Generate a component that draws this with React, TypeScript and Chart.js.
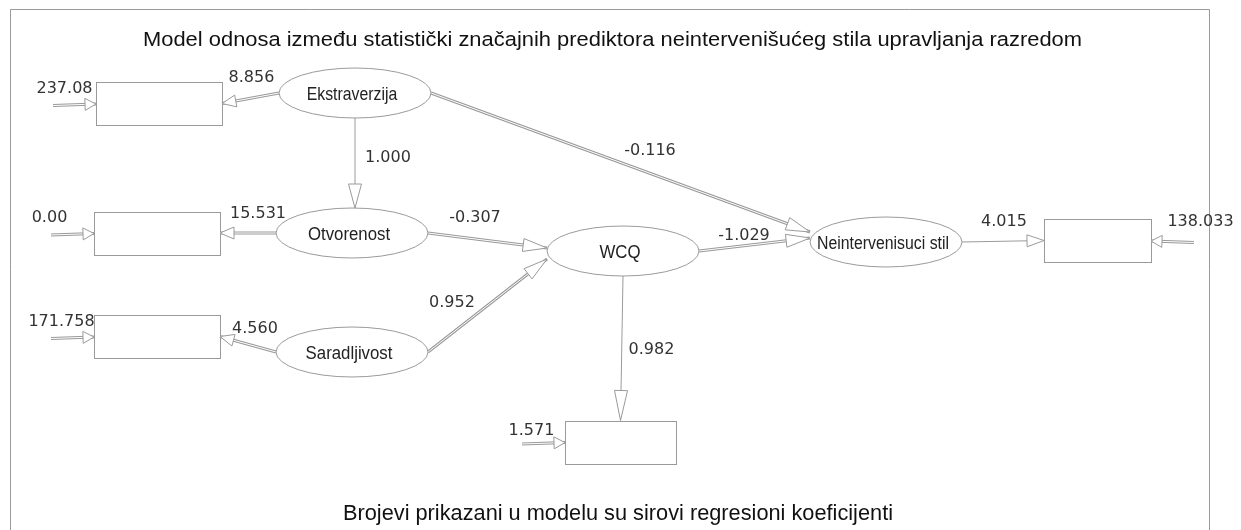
import { useEffect, useRef } from "react";
import { Chart, registerables } from "chart.js";

Chart.register(...registerables);

const titleText =
  "Model odnosa između statistički značajnih prediktora neintervenišućeg stila upravljanja razredom";
const noteText = "Brojevi prikazani u modelu su sirovi regresioni koeficijenti";

// Latent variables (ellipses) – centre in diagram units
const latentNames = ["Ekstraverzija", "Otvorenost", "Saradljivost", "WCQ", "Neintervenisuci stil"];
const latentX = [355, 352, 352, 623, 886];
const latentY = [93, 233, 352, 251, 242];

// Observed indicators (boxes) – centre in diagram units
const boxNames = ["b1", "b2", "b3", "b4", "b5"];
const boxX = [159, 157, 157, 620.5, 1097.5];
const boxY = [103.5, 233, 336.5, 442, 240.5];
const boxWidth = [126, 126, 126, 111, 107];

// Error variances on the boxes
const errorLabels = ["237.08", "0.00", "171.758", "1.571", "138.033"];
const errorSide = ["L", "L", "L", "L", "R"];
const errorLabelX = [64.5, 49.5, 61.5, 531.5, 1200.5];
const errorLabelY = [88.5, 217.5, 322, 431, 221.5];

// Paths with raw regression coefficients
const pathFrom = ["Ekstraverzija", "Ekstraverzija", "Ekstraverzija", "Otvorenost", "Otvorenost", "Saradljivost", "Saradljivost", "WCQ", "WCQ", "Neintervenisuci stil"];
const pathFromSide = ["L", "B", "R", "L", "R", "L", "R", "R", "B", "R"];
const pathTo = ["b1", "Otvorenost", "Neintervenisuci stil", "b2", "WCQ", "b3", "WCQ", "Neintervenisuci stil", "b4", "b5"];
const pathToSide = ["R", "T", "L", "R", "L", "R", "L", "L", "T", "L"];
const pathToShift = [0, 0, -10, 0, -3, 0, 8, -4, 0, 0];
const pathCoef = [8.856, 1.0, -0.116, 15.531, -0.307, 4.56, 0.952, -1.029, 0.982, 4.015];
const pathDouble = [true, false, true, true, true, true, true, true, false, false];
const pathLabelX = [251.5, 388, 650, 258, 475, 255, 452, 744, 651.5, 1004];
const pathLabelY = [78, 157.5, 151, 213.5, 218, 329, 302.5, 235.5, 350, 221.5];

const RX = 76;
const RY = 25;
const BOX_H = 43;
const LINE = "#9a9a9a";

type Pt = { x: number; y: number };

function nodeAnchor(name: string, side: string): Pt {
  const li = latentNames.indexOf(name);
  if (li >= 0) {
    const cx = latentX[li];
    const cy = latentY[li];
    if (side === "L") return { x: cx - RX, y: cy };
    if (side === "R") return { x: cx + RX, y: cy };
    if (side === "T") return { x: cx, y: cy - RY };
    return { x: cx, y: cy + RY };
  }
  const bi = boxNames.indexOf(name);
  const cx = boxX[bi];
  const cy = boxY[bi];
  const w = boxWidth[bi] / 2;
  if (side === "L") return { x: cx - w, y: cy };
  if (side === "R") return { x: cx + w, y: cy };
  if (side === "T") return { x: cx, y: cy - BOX_H / 2 };
  return { x: cx, y: cy + BOX_H / 2 };
}

function drawArrow(ctx: CanvasRenderingContext2D, a: Pt, b: Pt, dbl: boolean, headLen: number, headHalf: number) {
  ctx.save();
  ctx.lineCap = "butt";
  ctx.beginPath();
  ctx.moveTo(a.x, a.y);
  ctx.lineTo(b.x, b.y);
  if (dbl) {
    ctx.strokeStyle = LINE;
    ctx.lineWidth = 3;
    ctx.stroke();
    ctx.strokeStyle = "#ffffff";
    ctx.lineWidth = 1;
    ctx.stroke();
  } else {
    ctx.strokeStyle = LINE;
    ctx.lineWidth = 1;
    ctx.stroke();
  }
  const dx = b.x - a.x;
  const dy = b.y - a.y;
  const len = Math.hypot(dx, dy) || 1;
  const ux = dx / len;
  const uy = dy / len;
  const px = -uy;
  const py = ux;
  const bx = b.x - ux * headLen;
  const by = b.y - uy * headLen;
  ctx.beginPath();
  ctx.moveTo(b.x, b.y);
  ctx.lineTo(bx + px * headHalf, by + py * headHalf);
  ctx.lineTo(bx - px * headHalf, by - py * headHalf);
  ctx.closePath();
  ctx.fillStyle = "#ffffff";
  ctx.fill();
  ctx.strokeStyle = LINE;
  ctx.lineWidth = 1;
  ctx.stroke();
  ctx.restore();
}

function fitText(ctx: CanvasRenderingContext2D, text: string, x: number, y: number, width: number) {
  const w = ctx.measureText(text).width || 1;
  ctx.save();
  ctx.translate(x, y);
  ctx.scale(width / w, 1);
  ctx.fillText(text, 0, 0);
  ctx.restore();
}

const diagramPlugin = {
  id: "pathDiagram",
  afterDatasetsDraw(chart: any) {
    const ctx: CanvasRenderingContext2D = chart.ctx;
    const xs = chart.scales.x;
    const ys = chart.scales.y;
    const P = (p: Pt): Pt => ({ x: xs.getPixelForValue(p.x), y: ys.getPixelForValue(p.y) });
    const sx = (v: number) => Math.abs(xs.getPixelForValue(v) - xs.getPixelForValue(0));
    const sy = (v: number) => Math.abs(ys.getPixelForValue(v) - ys.getPixelForValue(0));

    ctx.save();
    // frame
    ctx.strokeStyle = "#9a9a9a";
    ctx.lineWidth = 1;
    ctx.beginPath();
    const f0 = P({ x: 10.5, y: 530 });
    const f1 = P({ x: 10.5, y: 9.5 });
    const f2 = P({ x: 1209.5, y: 9.5 });
    const f3 = P({ x: 1209.5, y: 530 });
    ctx.moveTo(f0.x, f0.y);
    ctx.lineTo(f1.x, f1.y);
    ctx.lineTo(f2.x, f2.y);
    ctx.lineTo(f3.x, f3.y);
    ctx.stroke();

    // titles
    ctx.fillStyle = "#111111";
    ctx.textAlign = "center";
    ctx.textBaseline = "middle";
    ctx.font = "20.5px 'Liberation Sans', Arial, sans-serif";
    const t = P({ x: 612.5, y: 40.5 });
    fitText(ctx, titleText, t.x, t.y, sx(939));
    ctx.font = "22px 'Liberation Sans', Arial, sans-serif";
    const n = P({ x: 618, y: 514 });
    fitText(ctx, noteText, n.x, n.y, sx(550));

    // boxes
    ctx.strokeStyle = LINE;
    ctx.lineWidth = 1;
    boxNames.forEach((_, i) => {
      const tl = P({ x: boxX[i] - boxWidth[i] / 2, y: boxY[i] - BOX_H / 2 });
      ctx.strokeRect(Math.round(tl.x) + 0.5, Math.round(tl.y) + 0.5, Math.round(sx(boxWidth[i])), Math.round(sy(BOX_H)));
    });

    // error arrows
    boxNames.forEach((name, i) => {
      const side = errorSide[i];
      const end = nodeAnchor(name, side);
      const dir = side === "L" ? -1 : 1;
      const start = { x: end.x + dir * 43, y: end.y + 2 };
      drawArrow(ctx, P(start), P({ x: end.x, y: end.y + 0.5 }), true, 11, 6);
    });

    // paths
    pathFrom.forEach((from, i) => {
      const a = nodeAnchor(from, pathFromSide[i]);
      let b = nodeAnchor(pathTo[i], pathToSide[i]);
      b = { x: b.x, y: b.y + pathToShift[i] };
      if (pathFromSide[i] === "B" && pathToSide[i] === "T" && from === "Ekstraverzija") b = { x: a.x, y: b.y };
      const structural = latentNames.indexOf(pathTo[i]) >= 0 || pathTo[i] === "b4";
      const headLen = pathTo[i] === "b4" ? 30 : structural ? 24 : pathTo[i] === "b5" ? 17 : 14;
      const headHalf = structural ? 6.5 : 6;
      drawArrow(ctx, P(a), P(b), pathDouble[i], headLen, headHalf);
    });

    // ellipses
    latentNames.forEach((name, i) => {
      const c = P({ x: latentX[i], y: latentY[i] });
      ctx.beginPath();
      ctx.ellipse(c.x, c.y, sx(RX), sy(RY), 0, 0, Math.PI * 2);
      ctx.fillStyle = "#ffffff";
      ctx.fill();
      ctx.strokeStyle = LINE;
      ctx.lineWidth = 1;
      ctx.stroke();
      ctx.fillStyle = "#222222";
      ctx.font = (name.length > 12 ? "16.5px" : "17.5px") + " 'Liberation Sans', Arial, sans-serif";
      ctx.textAlign = "center";
      ctx.textBaseline = "middle";
      ctx.save();
      ctx.translate(c.x - 3, c.y + 2);
      ctx.scale(0.96, 1.08);
      ctx.fillText(name, 0, 0);
      ctx.restore();
    });

    // coefficient labels
    ctx.fillStyle = "#333333";
    ctx.font = "16px 'DejaVu Sans', sans-serif";
    ctx.textAlign = "center";
    ctx.textBaseline = "middle";
    pathCoef.forEach((v, i) => {
      const p = P({ x: pathLabelX[i], y: pathLabelY[i] });
      ctx.fillText(v.toFixed(3), p.x, p.y);
    });
    errorLabels.forEach((s, i) => {
      const p = P({ x: errorLabelX[i], y: errorLabelY[i] });
      ctx.fillText(s, p.x, p.y);
    });
    ctx.restore();
  },
};

export default function App() {
  const ref = useRef<HTMLCanvasElement | null>(null);
  useEffect(() => {
    document.body.style.margin = "0";
    document.body.style.background = "#ffffff";
    if (!ref.current) return;
    const chart = new Chart(ref.current, {
      type: "scatter",
      data: {
        datasets: [
          {
            label: "latent",
            data: latentNames.map((_, i) => ({ x: latentX[i], y: latentY[i] })),
            pointRadius: 0,
            showLine: false,
          },
        ],
      },
      options: {
        animation: false,
        responsive: true,
        maintainAspectRatio: false,
        layout: { padding: 0 },
        events: [],
        plugins: { legend: { display: false }, tooltip: { enabled: false }, title: { display: false } },
        scales: {
          x: { type: "linear", min: 0, max: 1241, display: false },
          y: { type: "linear", min: 0, max: 530, reverse: true, display: false },
        },
      },
      plugins: [diagramPlugin],
    });
    return () => chart.destroy();
  }, []);
  return (
    <div style={{ width: 1241, height: 530, position: "relative", background: "#fff" }}>
      <canvas ref={ref} />
    </div>
  );
}
